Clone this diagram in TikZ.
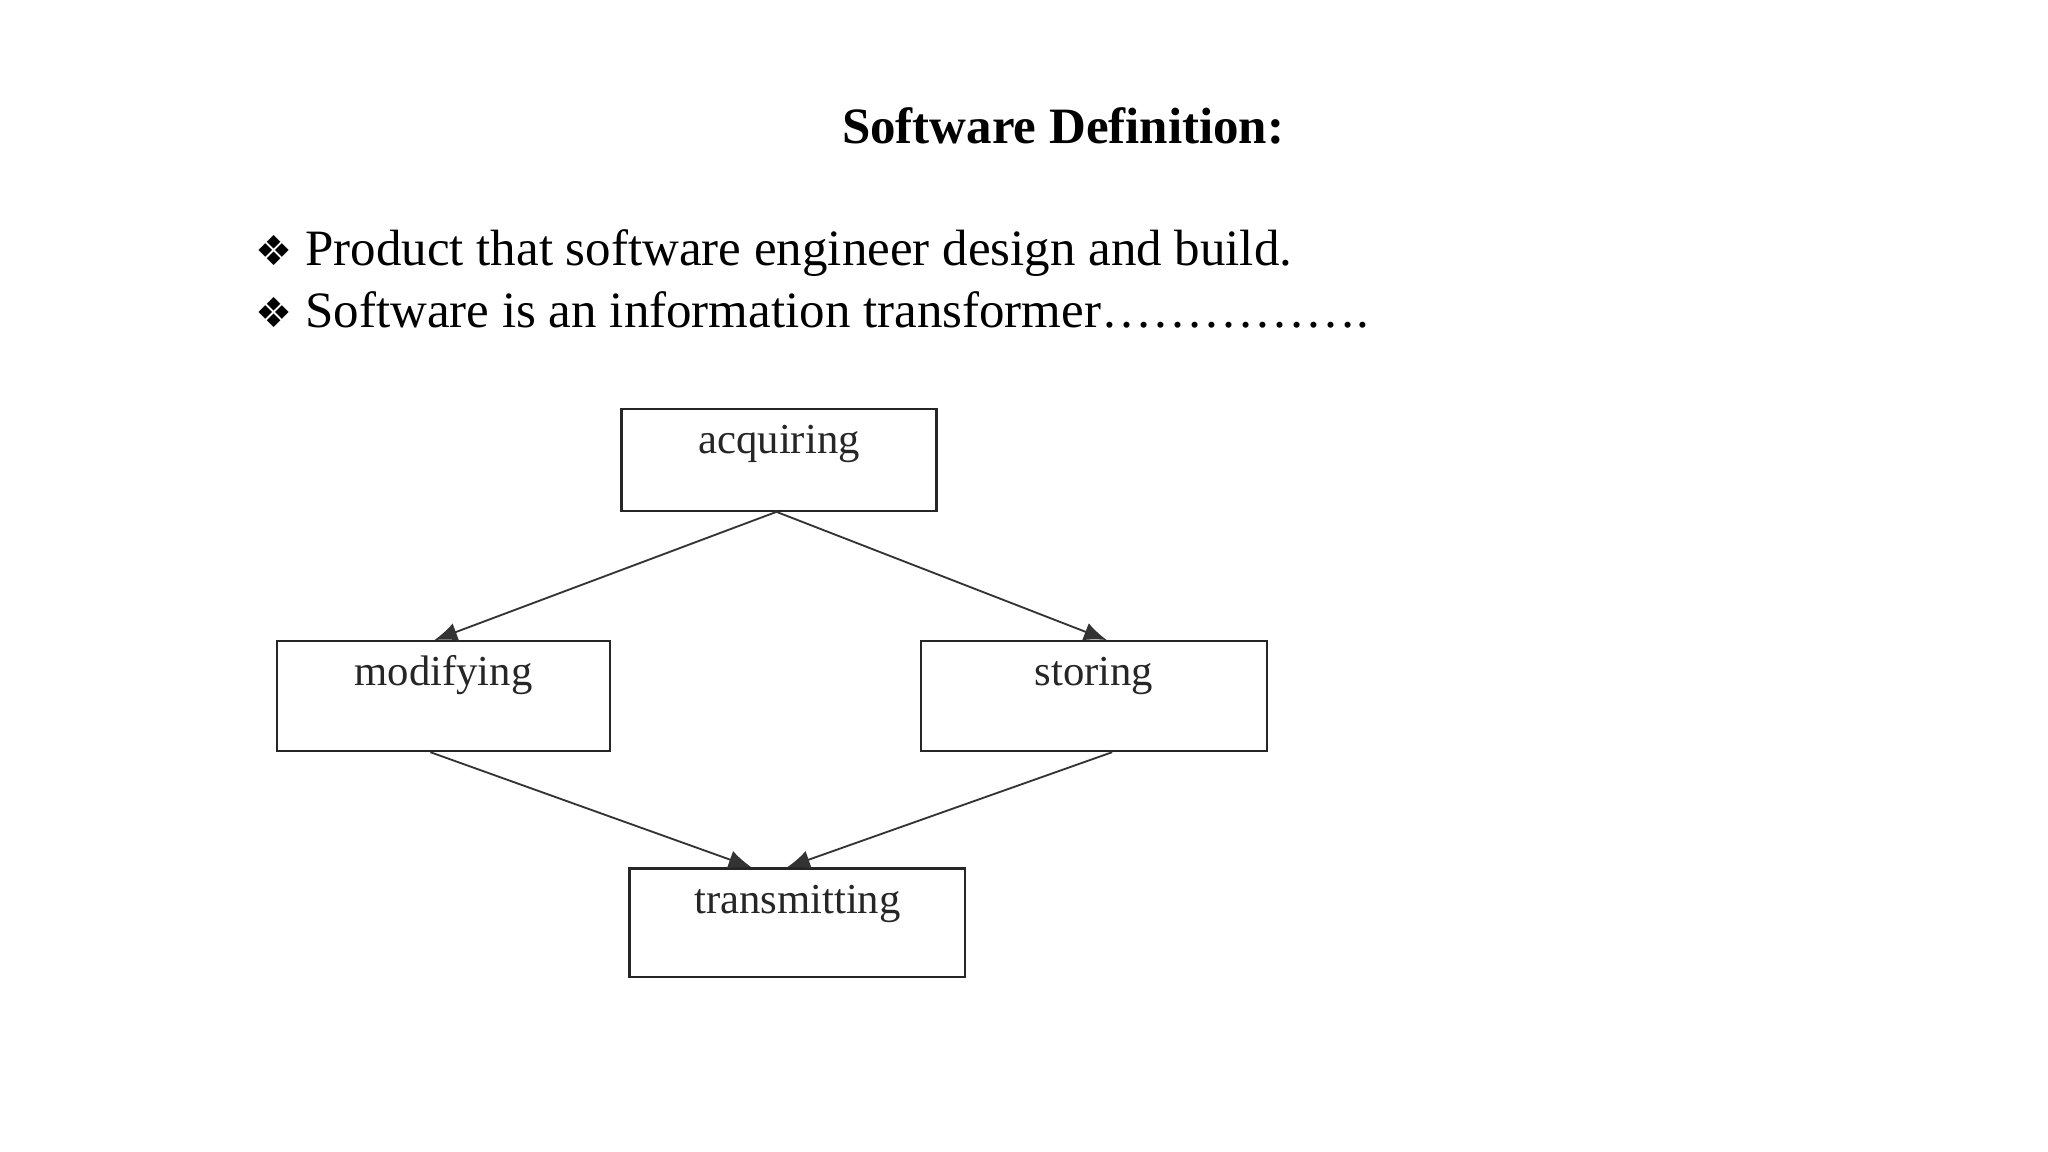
\documentclass[tikz,border=0pt]{standalone}
\usepackage{fontspec}
\setmainfont{Liberation Serif}
\newfontfamily\symfont{DejaVu Sans}
\usetikzlibrary{arrows.meta,calc}
\tikzset{
  box/.style={draw=black!85,line width=0.5pt,inner sep=0pt},
  boxtext/.style={font=\fontsize{9.3pt}{11pt}\selectfont,text=black!85,inner sep=0pt},
  conn/.style={draw=black!80,line width=0.4pt,-{Latex[length=5pt,width=4pt]}},
  bullet/.style={font=\fontsize{11.1pt}{13pt}\selectfont,anchor=base west,inner sep=0pt}
}
\begin{document}
\begin{tikzpicture}[x=0.01cm,y=-0.01cm]
\useasboundingbox[fill=white] (0,0) rectangle (1568,882);
\node[font=\bfseries\fontsize{11.1pt}{13pt}\selectfont,anchor=base,inner sep=0pt] (title) at (814,110) {Software Definition:};
\node[bullet] (b1) at (195,203) {{\symfont\fontsize{9pt}{10pt}\selectfont ❖} Product that software engineer design and build.};
\node[bullet] (b2) at (195,251) {{\symfont\fontsize{9pt}{10pt}\selectfont ❖} Software is an information transformer…………….};
\node[box,minimum width=2.41cm,minimum height=0.78cm] (acq) at (596.5,352) {};
\node[box,minimum width=2.55cm,minimum height=0.84cm] (mod) at (339.5,533) {};
\node[box,minimum width=2.65cm,minimum height=0.84cm] (sto) at (837.5,533) {};
\node[box,minimum width=2.57cm,minimum height=0.83cm] (tra) at (610.5,706.5) {};
\node[boxtext,anchor=base] (tacq) at ($(acq.north)+(0,35)$) {acquiring};
\node[boxtext,anchor=base] (tmod) at ($(mod.north)+(0,35)$) {modifying};
\node[boxtext,anchor=base] (tsto) at ($(sto.north)+(0,35)$) {storing};
\node[boxtext,anchor=base] (ttra) at ($(tra.north)+(0,35)$) {transmitting};
\draw[conn] ($(acq.south)+(-2,0)$) -- ($(mod.north)+(-7,0)$);
\draw[conn] ($(acq.south)+(-2,0)$) -- ($(sto.north)+(10,0)$);
\draw[conn] ($(mod.south)+(-10,0)$) -- ($(tra.north)+(-35,0)$);
\draw[conn] ($(sto.south)+(14,0)$) -- ($(tra.north)+(-8,0)$);
\end{tikzpicture}
\end{document}
